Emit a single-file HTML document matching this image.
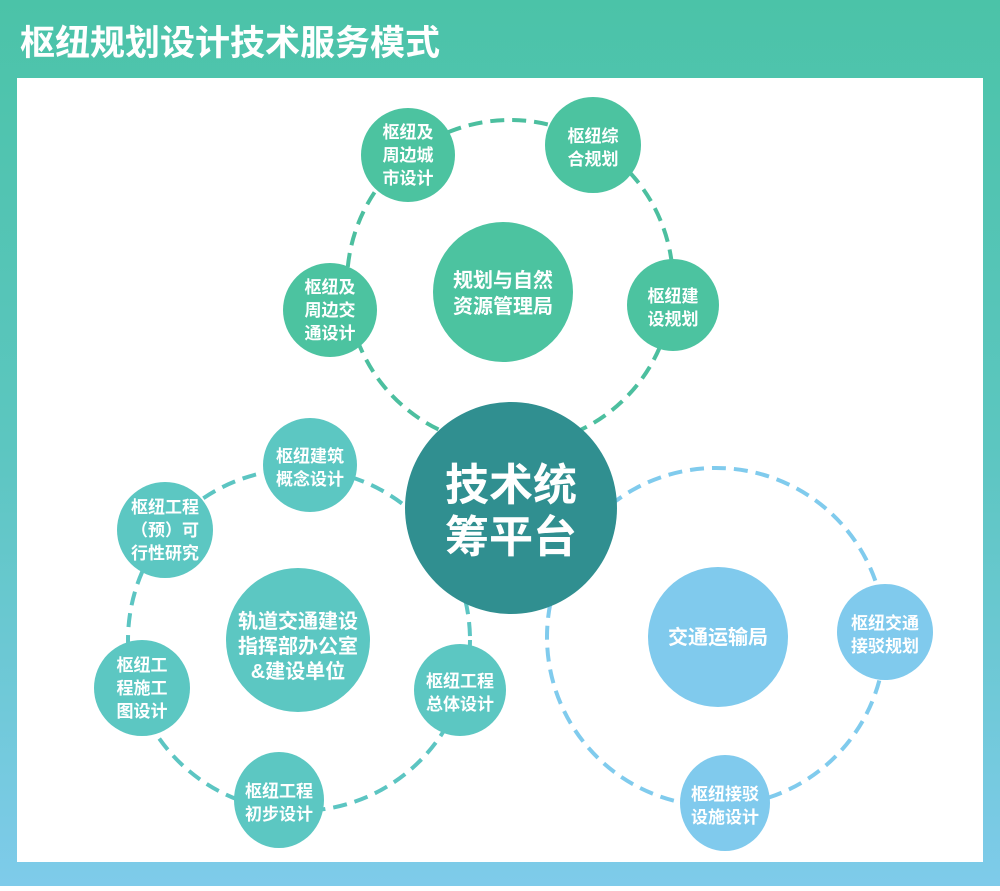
<!DOCTYPE html>
<html><head><meta charset="utf-8"><style>
html,body{margin:0;padding:0}
body{width:1000px;height:886px;overflow:hidden;font-family:"Liberation Sans","Noto Sans CJK SC",sans-serif}
</style></head><body>
<svg width="1000" height="886" viewBox="0 0 1000 886" xmlns="http://www.w3.org/2000/svg" font-family="Liberation Sans, Noto Sans CJK SC, sans-serif" font-weight="bold">
<defs><linearGradient id="bg" x1="0" y1="0" x2="0" y2="1"><stop offset="0" stop-color="#4bc3a8"/><stop offset="0.5" stop-color="#5cc6c0"/><stop offset="1" stop-color="#7ecbea"/></linearGradient></defs>
<rect width="1000" height="886" fill="url(#bg)"/>
<rect x="17" y="78" width="966" height="784" fill="#fff"/>
<text x="20" y="55" font-size="35" fill="#fff">枢纽规划设计技术服务模式</text>
<g fill="none" stroke-width="4" stroke-dasharray="14 8">
<circle cx="510" cy="283" r="163" stroke="#4cbf9f"/>
<circle cx="299" cy="640" r="171" stroke="#5cc5c2"/>
<circle cx="716" cy="637" r="169" stroke="#80cbed"/>
</g>
<g fill="#fff" text-anchor="middle">
<circle cx="511" cy="508" r="106" fill="#308f90"/>
<text x="511" y="500" font-size="44">技术统</text><text x="511" y="552" font-size="44">筹平台</text>
<g fill="#4cc3a0">
<circle cx="408" cy="155" r="47"/><circle cx="593" cy="145" r="48"/><circle cx="673" cy="305" r="46"/><circle cx="330" cy="310" r="47"/><circle cx="503" cy="292" r="70"/>
</g>
<g fill="#5cc7c2">
<circle cx="310" cy="465" r="47"/><circle cx="165" cy="530" r="48"/><circle cx="298" cy="640" r="72"/><circle cx="142" cy="688" r="48"/><circle cx="460" cy="690" r="46"/><ellipse cx="279" cy="800" rx="45" ry="48"/>
</g>
<g fill="#80caed">
<circle cx="718" cy="637" r="70"/><circle cx="885" cy="632" r="48"/><ellipse cx="725" cy="803" rx="45" ry="48"/>
</g>
<g font-size="17">
<text x="408" y="138">枢纽及</text><text x="408" y="161">周边城</text><text x="408" y="184">市设计</text>
<text x="593" y="142">枢纽综</text><text x="593" y="165">合规划</text>
<text x="673" y="302">枢纽建</text><text x="673" y="325">设规划</text>
<text x="330" y="293">枢纽及</text><text x="330" y="316">周边交</text><text x="330" y="339">通设计</text>
<text x="310" y="462">枢纽建筑</text><text x="310" y="485">概念设计</text>
<text x="165" y="513">枢纽工程</text><text x="165" y="536">（预）可</text><text x="165" y="559">行性研究</text>
<text x="142" y="671">枢纽工</text><text x="142" y="694">程施工</text><text x="142" y="717">图设计</text>
<text x="460" y="687">枢纽工程</text><text x="460" y="710">总体设计</text>
<text x="279" y="797">枢纽工程</text><text x="279" y="820">初步设计</text>
<text x="885" y="629">枢纽交通</text><text x="885" y="652">接驳规划</text>
<text x="725" y="800">枢纽接驳</text><text x="725" y="823">设施设计</text>
</g>
<g font-size="20">
<text x="503" y="287">规划与自然</text><text x="503" y="313">资源管理局</text>
<text x="298" y="628">轨道交通建设</text><text x="298" y="653">指挥部办公室</text><text x="298" y="678">&amp;建设单位</text>
<text x="718" y="644">交通运输局</text>
</g>
</g>
</svg>
</body></html>
